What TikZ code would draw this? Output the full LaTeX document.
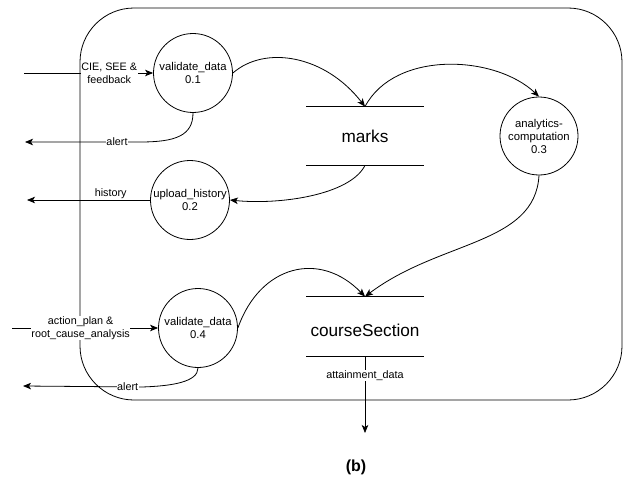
\documentclass[tikz,border=0pt]{standalone}
\usepackage{fontspec}
\setmainfont{Liberation Sans}
\usetikzlibrary{arrows.meta}
\begin{document}
\begin{tikzpicture}[x=1pt, y=-1pt, line width=0.8pt,
  proc/.style={circle, draw, minimum size=79pt, inner sep=0pt, align=center,
    font=\fontsize{11.3}{13}\selectfont},
  store/.style={minimum width=117pt, minimum height=58pt, inner sep=0pt,
    font=\fontsize{17.2}{20}\selectfont},
  flow/.style={-{Stealth[length=8pt, width=6.5pt, inset=2pt]}},
  lbl/.style={fill=white, inner sep=0.6pt, align=center,
    font=\fontsize{10.8}{12.6}\selectfont}]
  \useasboundingbox (0,0) rectangle (624,487);

  % system boundary
  \draw[rounded corners=54pt] (80,8) rectangle (622,400);

  % processes
  \node[proc] (p1) at (193,73)  {validate\_data\\0.1};
  \node[proc] (p2) at (190,200) {upload\_history\\0.2};
  \node[proc, minimum size=78pt] (p3) at (539,136)
    {analytics-\\computation\\0.3};
  \node[proc] (p4) at (198,328) {validate\_data\\0.4};

  % data stores
  \node[store] (marks) at (365,136) {marks};
  \draw (marks.north west) -- (marks.north east);
  \draw (marks.south west) -- (marks.south east);
  \node[store, minimum height=59pt] (cs) at (365,326.5) {};
  \node[font=\fontsize{17.2}{20}\selectfont] (cstext) at (365,330) {courseSection};
  \draw (cs.north west) -- (cs.north east);
  \draw (cs.south west) -- (cs.south east);

  % external ends
  \coordinate (in1) at (24,73);
  \coordinate (alert1) at (25,142);
  \coordinate (histout) at (27,200);
  \coordinate (in2) at (12,328);
  \coordinate (alert2) at (23,386);
  \coordinate (attout) at (365,433);

  % inputs
  \draw[flow] (in1) -- node[lbl, pos=0.66] {CIE, SEE \&\\feedback} (p1.west);
  \draw[flow] (in2) -- node[lbl, pos=0.47] {action\_plan \&\\root\_cause\_analysis} (p4.west);

  % outputs
  \draw[flow] (p1.south) .. controls (193,136) and (175,142) .. (140,142)
    -- node[lbl, pos=0.2] {alert} (alert1);
  \draw[flow] (p2.west) -- node[lbl, above, pos=0.32, fill=none] {history} (histout);
  \draw[flow] (p4.south) .. controls (198,382) and (172,386) .. (142,387)
    -- node[lbl, pos=0.12] {alert} (alert2);
  \draw[flow] (cs.south) -- node[lbl, pos=0.25] {attainment\_data} (attout);

  % internal flows
  \draw[flow] (p1.east) .. controls (265,45) and (325,55) .. (marks.north);
  \draw[flow] (marks.north) .. controls (395,50) and (495,55) .. (p3.north);
  \draw[flow] (marks.south) .. controls (350,195) and (280,205) .. (p2.east);
  \draw[flow] (p3.south) .. controls (535,245) and (440,240) .. (cs.north);
  \draw[flow] (p4.east) .. controls (260,265) and (320,250) .. (cs.north);

  % caption
  \node[font=\bfseries\fontsize{16}{18}\selectfont] (cap) at (356,467) {(b)};
\end{tikzpicture}
\end{document}
